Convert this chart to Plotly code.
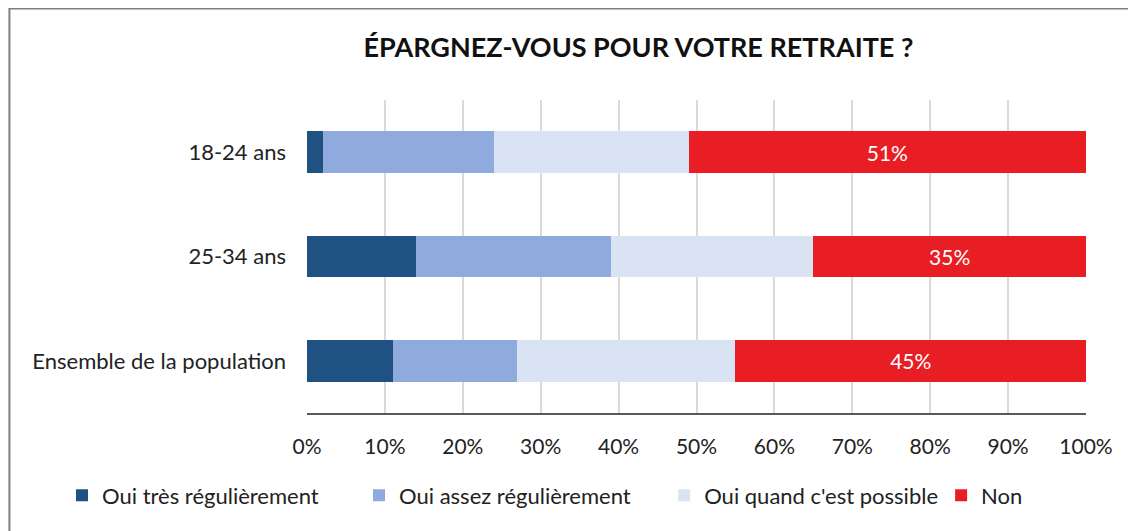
import plotly.graph_objects as go

# categories, top to bottom as in the chart
categories = ["18-24 ans", "25-34 ans", "Ensemble de la population"]

series_names = ["Oui très régulièrement", "Oui assez régulièrement",
                "Oui quand c'est possible", "Non"]
tres_reg = [2, 14, 11]
assez_reg = [22, 25, 16]
quand_possible = [25, 26, 28]
non = [51, 35, 45]

colors = ["#1F5282", "#8FAADC", "#DAE3F3", "#E81E24"]
FONT = "Lato, 'Noto Sans', sans-serif"

# one legend per series so the entries can be spread like the original
legend_ids = ["legend", "legend2", "legend3", "legend4"]
legend_x = [-0.3145, 0.0668, 0.4585, 0.8140]

fig = go.Figure()
for name, vals, col, lid in zip(series_names, [tres_reg, assez_reg, quand_possible, non],
                                colors, legend_ids):
    is_non = name == "Non"
    fig.add_trace(go.Bar(
        y=categories, x=[v / 100 for v in vals], name=name, orientation="h",
        marker=dict(color=col, line=dict(width=0)),
        text=[f"{v}%" for v in vals] if is_non else None,
        textposition="inside" if is_non else "none",
        insidetextanchor="middle",
        textfont=dict(color="white", size=21, family=FONT),
        hoverinfo="x+name",
        legend=lid, showlegend=True,
    ))

legend_style = dict(orientation="h", xanchor="left", y=-0.196, yanchor="top",
                    font=dict(size=22), itemwidth=30, bgcolor="rgba(0,0,0,0)",
                    visible=True)

# page body has an 8px margin: the figure starts at (8, 8) in the window
fig.update_layout(
    barmode="stack",
    bargap=0.6,
    showlegend=True,
    width=1136, height=531,
    margin=dict(l=299, r=58, t=92, b=126),
    paper_bgcolor="white", plot_bgcolor="white",
    font=dict(family=FONT, size=21, color="#222222"),
    title=dict(text="<b>ÉPARGNEZ-VOUS POUR VOTRE RETRAITE ?</b>",
               x=0.555, xanchor="center", y=0.925, yanchor="middle",
               font=dict(size=27, color="#111111", family=FONT)),
    xaxis=dict(range=[0, 1], tickformat=".0%", dtick=0.1, showgrid=True,
               gridcolor="#D9D9D9", gridwidth=1.5, zeroline=False,
               showline=True, linecolor="#595959", linewidth=2,
               ticks="", ticklabelstandoff=14, fixedrange=True),
    yaxis=dict(autorange="reversed", showgrid=False, zeroline=False,
               ticks="", ticklabelstandoff=20, fixedrange=True,
               tickfont=dict(size=22)),
    legend=dict(x=legend_x[0], **legend_style),
    legend2=dict(x=legend_x[1], **legend_style),
    legend3=dict(x=legend_x[2], **legend_style),
    legend4=dict(x=legend_x[3], **legend_style),
    shapes=[dict(type="rect", xref="paper", yref="paper",
                 x0=-0.382, x1=1.12, y0=-0.42, y1=1.292,
                 line=dict(color="#7F7F7F", width=2), layer="below")],
)

fig.write_html("out.html")
